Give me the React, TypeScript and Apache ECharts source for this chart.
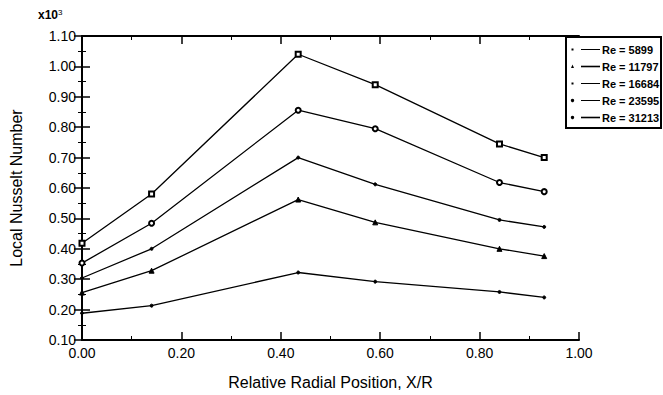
import React, { useEffect, useRef } from "react";
import * as echarts from "echarts";

const xPositions = [0, 0.14, 0.435, 0.59, 0.84, 0.93];
const re5899 = [0.188, 0.213, 0.322, 0.292, 0.258, 0.240];
const re11797 = [0.256, 0.328, 0.562, 0.487, 0.400, 0.376];
const re16684 = [0.304, 0.400, 0.700, 0.612, 0.495, 0.472];
const re23595 = [0.353, 0.484, 0.856, 0.795, 0.618, 0.588];
const re31213 = [0.418, 0.580, 1.040, 0.940, 0.745, 0.700];
const seriesNames = ["Re = 5899", "Re = 11797", "Re = 16684", "Re = 23595", "Re = 31213"];
const seriesValues = [re5899, re11797, re16684, re23595, re31213];
const seriesSymbols = ["circle", "triangle", "circle", "emptyCircle", "emptyRect"];
const seriesSymbolSizes = [3, 5, 3, 5, 5];
const legendMarkerKinds = ["dot", "triangle", "dot", "disc", "disc"];
const legendLineWidths = [1, 1.6, 1, 1, 1.6];

const FONT = "Liberation Sans, Arial, Helvetica, sans-serif";

function buildLegend() {
  const boxX = 566;
  const boxY = 37;
  const boxW = 95;
  const boxH = 91;
  const rowStart = 49;
  const rowStep = 17;
  const els: any[] = [
    {
      type: "rect",
      shape: { x: boxX, y: boxY, width: boxW, height: boxH },
      style: { fill: "#fff", stroke: "#000", lineWidth: 2 },
      z: 10,
    },
  ];
  seriesNames.forEach((name, i) => {
    const y = rowStart + i * rowStep;
    const kind = legendMarkerKinds[i];
    if (kind === "triangle") {
      els.push({
        type: "polygon",
        shape: { points: [[571, y + 2], [572.5, y - 1.5], [574, y + 2]] },
        style: { fill: "#000" },
        z: 11,
      });
    } else if (kind === "disc") {
      els.push({ type: "circle", shape: { cx: 572.5, cy: y + 0.5, r: 1.7 }, style: { fill: "#000" }, z: 11 });
    } else {
      els.push({ type: "rect", shape: { x: 571.5, y: y - 0.5, width: 2, height: 2 }, style: { fill: "#000" }, z: 11 });
    }
    els.push({
      type: "line",
      shape: { x1: 581, y1: y + 0.5, x2: 600, y2: y + 0.5 },
      style: { stroke: "#000", lineWidth: legendLineWidths[i] },
      z: 11,
    });
    els.push({
      type: "text",
      x: 602,
      y: y + 0.5,
      style: {
        text: name,
        fill: "#000",
        font: `bold 11px ${FONT}`,
        textVerticalAlign: "middle",
        verticalAlign: "middle",
      },
      z: 11,
    });
  });
  return els;
}

export default function App() {
  const ref = useRef<HTMLDivElement>(null);
  useEffect(() => {
    if (!ref.current) return;
    const chart = echarts.init(ref.current, null, { renderer: "svg" });
    const tickCommon = {
      axisLine: { show: true, lineStyle: { color: "#000", width: 2 } },
      axisTick: { show: true, inside: true, length: 8, lineStyle: { color: "#000", width: 1.5 } },
      minorTick: { show: true, splitNumber: 2, length: 4, lineStyle: { color: "#000", width: 1 } },
      splitLine: { show: false },
      minorSplitLine: { show: false },
    };
    chart.setOption({
      animation: false,
      backgroundColor: "#fff",
      textStyle: { fontFamily: FONT },
      grid: { left: 80, right: 84, top: 36, bottom: 50, containLabel: false },
      xAxis: [
        {
          type: "value",
          min: 0,
          max: 1,
          interval: 0.2,
          ...tickCommon,
          axisLabel: {
            color: "#000",
            fontSize: 14,
            fontFamily: FONT,
            margin: 6,
            formatter: (v: number) => v.toFixed(2),
          },
          name: "Relative Radial Position, X/R",
          nameLocation: "middle",
          nameGap: 34,
          nameTextStyle: { color: "#000", fontSize: 16, fontFamily: FONT },
        },
        {
          type: "value",
          position: "top",
          min: 0,
          max: 1,
          interval: 0.2,
          ...tickCommon,
          axisLabel: { show: false },
        },
      ],
      yAxis: [
        {
          type: "value",
          min: 0.1,
          max: 1.1,
          interval: 0.1,
          ...tickCommon,
          axisLabel: {
            color: "#000",
            fontSize: 14,
            fontFamily: FONT,
            margin: 6,
            formatter: (v: number) => v.toFixed(2),
          },
          name: "Local Nusselt Number",
          nameLocation: "middle",
          nameGap: 58,
          nameRotate: 90,
          nameTextStyle: { color: "#000", fontSize: 16, fontFamily: FONT },
        },
        {
          type: "value",
          position: "right",
          min: 0.1,
          max: 1.1,
          interval: 0.1,
          ...tickCommon,
          axisLabel: { show: false },
        },
      ],
      graphic: [
        {
          type: "text",
          left: 38,
          top: 8,
          style: {
            text: "{a|x10}{b|3}",
            rich: {
              a: { fontSize: 12, fontFamily: FONT, fill: "#000", fontWeight: "bold" },
              b: { fontSize: 8, fontFamily: FONT, fill: "#000", verticalAlign: "top", padding: [0, 0, 6, 0] },
            },
          },
        },
        ...buildLegend(),
      ],
      series: seriesNames.map((name, i) => ({
        name,
        type: "line",
        xAxisIndex: 0,
        yAxisIndex: 0,
        data: xPositions.map((x, j) => [x, seriesValues[i][j]]),
        symbol: seriesSymbols[i],
        symbolSize: seriesSymbolSizes[i],
        showSymbol: true,
        lineStyle: { color: "#000", width: 1.3 },
        itemStyle: { color: "#000", borderColor: "#000", borderWidth: 1 },
      })),
    });
    return () => chart.dispose();
  }, []);
  return <div ref={ref} style={{ width: 663, height: 395, position: "absolute", left: 0, top: 0 }} />;
}
